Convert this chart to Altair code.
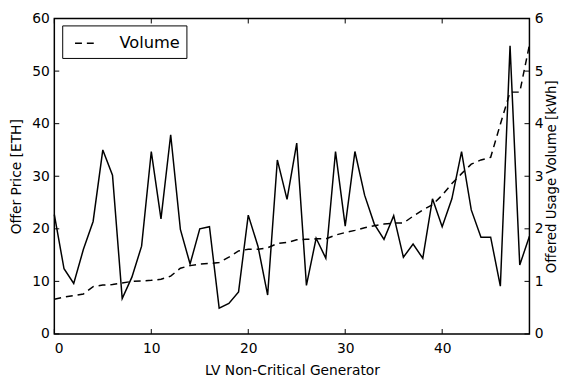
import altair as alt
import pandas as pd

generator = list(range(50))
price = [22.7, 12.4, 9.6, 16.1, 21.4, 35.0, 30.2, 6.75, 10.8, 16.7,
         34.7, 21.9, 37.9, 19.9, 13.3, 20.0, 20.4, 4.9, 5.8, 8.0,
         22.6, 16.7, 7.4, 33.1, 25.6, 36.3, 9.25, 18.2, 14.4, 34.7,
         20.5, 34.7, 26.4, 20.9, 18.0, 22.5, 14.6, 17.1, 14.4, 25.7,
         20.4, 25.7, 34.7, 23.6, 18.4, 18.4, 9.1, 54.8, 13.1, 18.6]
volume = [0.66, 0.70, 0.73, 0.76, 0.90, 0.93, 0.94, 0.97, 1.00, 1.01,
          1.02, 1.04, 1.10, 1.25, 1.30, 1.33, 1.34, 1.36, 1.46, 1.58,
          1.61, 1.61, 1.64, 1.72, 1.74, 1.79, 1.80, 1.81, 1.81, 1.88,
          1.93, 1.97, 2.02, 2.06, 2.09, 2.11, 2.11, 2.24, 2.36, 2.46,
          2.64, 2.86, 3.05, 3.23, 3.31, 3.36, 3.99, 4.60, 4.60, 5.50]
x_ticks = [0, 10, 20, 30, 40]
y_ticks = [0, 10, 20, 30, 40, 50, 60]
v_ticks = [0, 1, 2, 3, 4, 5, 6]

df = pd.DataFrame({"gen": generator, "price": price, "volume": volume,
                   "series": ["Volume"] * len(generator)})
xt = pd.DataFrame({"t": x_ticks})
yt = pd.DataFrame({"t": y_ticks})

W, H = 482, 320
FONT = "DejaVu Sans"
xscale = alt.Scale(domain=[0, 49], nice=False, zero=False)
pscale = alt.Scale(domain=[0, 60], nice=False)
vscale = alt.Scale(domain=[0, 6], nice=False)
xaxis = alt.Axis(values=x_ticks, title="LV Non-Critical Generator",
                 ticks=False, domain=False, grid=False, labelPadding=8,
                 titlePadding=8, format="d")
xenc = alt.X("gen:Q", scale=xscale, axis=xaxis)

price_line = alt.Chart(df).mark_line(color="black", strokeWidth=1.5).encode(
    x=xenc,
    y=alt.Y("price:Q", scale=pscale,
            axis=alt.Axis(values=y_ticks, title="Offer Price [ETH]", ticks=False,
                          domain=False, grid=False, labelPadding=5, titlePadding=8)),
)

vol_line = alt.Chart(df).mark_line(color="black", strokeWidth=1.5).encode(
    x=xenc,
    y=alt.Y("volume:Q", scale=vscale,
            axis=alt.Axis(orient="right", values=v_ticks,
                          title="Offered Usage Volume [kWh]", ticks=False,
                          domain=False, grid=False, labelPadding=5, titlePadding=2,
                          titleFontSize=13.5, titleAngle=270, titleBaseline="top")),
    strokeDash=alt.StrokeDash(
        "series:N",
        scale=alt.Scale(domain=["Volume"], range=[[7, 5]]),
        legend=alt.Legend(title=None, orient="none", legendX=8, legendY=7,
                          symbolType="stroke", symbolSize=484, symbolStrokeWidth=1.5,
                          symbolStrokeColor="black", symbolOffset=6,
                          labelFontSize=16.5, labelFont=FONT,
                          labelColor="black", labelOffset=22, padding=6,
                          strokeColor="black", fillColor="white"),
    ),
)

tick_len = 5
tx = alt.X("t:Q", scale=xscale, axis=xaxis)
bottom_ticks = alt.Chart(xt).mark_rule(color="black", strokeWidth=1).encode(
    x=tx, y=alt.value(H), y2=alt.value(H - tick_len))
top_ticks = alt.Chart(xt).mark_rule(color="black", strokeWidth=1).encode(
    x=tx, y=alt.value(0), y2=alt.value(tick_len))
left_ticks = alt.Chart(yt).mark_rule(color="black", strokeWidth=1).encode(
    y=alt.Y("t:Q", scale=pscale, axis=None), x=alt.value(0), x2=alt.value(tick_len))
right_ticks = alt.Chart(yt).mark_rule(color="black", strokeWidth=1).encode(
    y=alt.Y("t:Q", scale=pscale, axis=None), x=alt.value(W), x2=alt.value(W - tick_len))

chart = alt.layer(
    price_line, vol_line, bottom_ticks, top_ticks, left_ticks, right_ticks
).resolve_scale(y="independent").properties(
    width=W, height=H,
    autosize=alt.AutoSizeParams(type="none"),
    padding={"left": 47, "top": 8, "right": 31, "bottom": 42},
).configure_view(
    stroke="black", strokeWidth=1.5
).configure_axis(
    labelFont=FONT, titleFont=FONT, labelFontSize=14, titleFontSize=14,
    labelColor="black", titleColor="black", titleFontWeight="normal",
)

chart.save("out.html", embed_options={"renderer": "svg", "actions": False})
